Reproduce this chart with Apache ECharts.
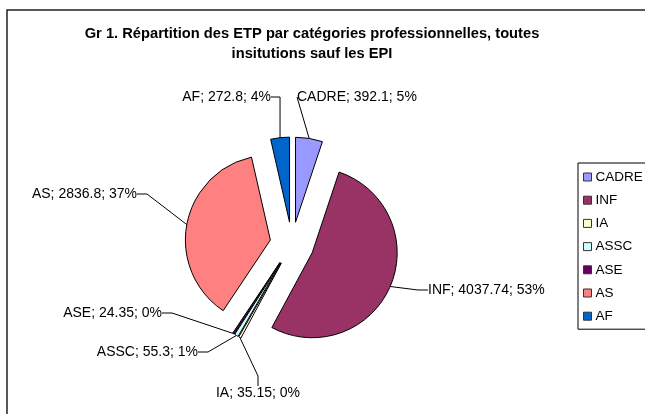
<!DOCTYPE html>
<html>
<head>
<meta charset="utf-8">
<script src="https://cdn.jsdelivr.net/npm/echarts@6/dist/echarts.min.js"></script>
<style>
	html, body { margin: 0; padding: 0; background: #fff; }
	#chart { width: 645px; height: 414px; }
</style>
</head>
<body>
<div id="chart"></div>
<script type="text/javascript">
	// categories / values, in order clockwise from 12 o'clock
	var categories = [ 'CADRE', 'INF', 'IA', 'ASSC', 'ASE', 'AS', 'AF' ];
	var values = [ 392.1, 4037.74, 35.15, 55.3, 24.35, 2836.8, 272.8 ];
	var colors = [ '#9999FF', '#993366', '#FFFFCC', '#CCFFFF', '#660066', '#FF8080', '#0066CC' ];

	// where each label box sits (x, y, align) - box has 3px padding round the text
	var labelPos = [
		[ 294, 97, 'left' ],
		[ 425, 290, 'left' ],
		[ 258, 393, 'center' ],
		[ 201, 352, 'right' ],
		[ 165, 313, 'right' ],
		[ 140, 194, 'right' ],
		[ 274, 97, 'right' ]
	];

	var pieCenter = [ 292, 244 ];
	var pieRadius = 85;
	var explode = 22; // every slice pulled out like the excel "exploded pie"

	var total = 0;
	for (var i = 0; i < values.length; i++) total += values[i];

	function labelText(p) {
		return p.name + '; ' + p.value + '; ' + Math.round(p.value / total * 100) + '%';
	}

	// one pie per slice, each shifted along the slice's middle angle
	var series = [];
	var cum = 0;
	for (var i = 0; i < values.length; i++) {
		var mid = (90 - (cum + values[i] / 2) / total * 360) * Math.PI / 180;
		cum += values[i];
		var data = [];
		for (var j = 0; j < values.length; j++) {
			var own = (j === i);
			data.push({
				name : categories[j],
				value : values[j],
				itemStyle : own ? { color : colors[j], borderColor : '#000', borderWidth : 1 }
						: { color : 'rgba(0,0,0,0)', borderWidth : 0 },
				label : { show : own },
				labelLine : { show : own }
			});
		}
		series.push({
			type : 'pie',
			center : [ pieCenter[0] + Math.cos(mid) * explode, pieCenter[1] - Math.sin(mid) * explode ],
			radius : pieRadius,
			startAngle : 90,
			clockwise : true,
			silent : true,
			legendHoverLink : false,
			avoidLabelOverlap : false,
			emphasis : { disabled : true },
			label : {
				position : 'outside',
				color : '#000',
				fontSize : 14,
				padding : [ 1, 3, 1, 3 ],
				formatter : labelText
			},
			labelLine : {
				length : 15,
				length2 : 10,
				smooth : false,
				lineStyle : { color : '#000', width : 1 }
			},
			labelLayout : function(p) {
				var lp = labelPos[p.dataIndex];
				return {
					x : lp[0],
					y : lp[1],
					align : lp[2],
					verticalAlign : 'middle'
				};
			},
			data : data
		});
	}

	var legendData = [];
	for (var i = 0; i < categories.length; i++) {
		legendData.push({
			name : categories[i],
			itemStyle : { color : colors[i], borderColor : '#333', borderWidth : 1 }
		});
	}

	var chart = echarts.init(document.getElementById('chart'));
	var option = {
		animation : false,
		backgroundColor : '#fff',
		textStyle : { fontFamily : 'Liberation Sans, Arial, sans-serif' },
		title : {
			text : 'Gr 1. Répartition des ETP par catégories professionnelles, toutes\ninsitutions sauf les EPI',
			left : 307,
			top : 19,
			textAlign : 'center',
			padding : [ 5, 5, 5, 5 ],
			textStyle : {
				fontSize : 14.7,
				fontWeight : 'bold',
				lineHeight : 20,
				color : '#000',
				fontFamily : 'Liberation Sans, Arial, sans-serif'
			}
		},
		legend : {
			orient : 'vertical',
			left : 578,
			top : 163,
			padding : [ 6, 40, 5, 5 ],
			borderColor : '#000',
			borderWidth : 1,
			backgroundColor : '#fff',
			itemWidth : 8,
			itemHeight : 8,
			itemGap : 7.2,
			icon : 'rect',
			selectedMode : false,
			textStyle : {
				fontSize : 13.5,
				lineHeight : 16,
				color : '#000',
				padding : [ 0, 0, 0, -1 ]
			},
			data : legendData
		},
		graphic : [ {
			type : 'rect',
			shape : { x : 7, y : 10, width : 700, height : 500 },
			style : { fill : 'none', stroke : '#222', lineWidth : 1.5 },
			z : -10
		} ],
		series : series
	};
	chart.setOption(option);
</script>
</body>
</html>
